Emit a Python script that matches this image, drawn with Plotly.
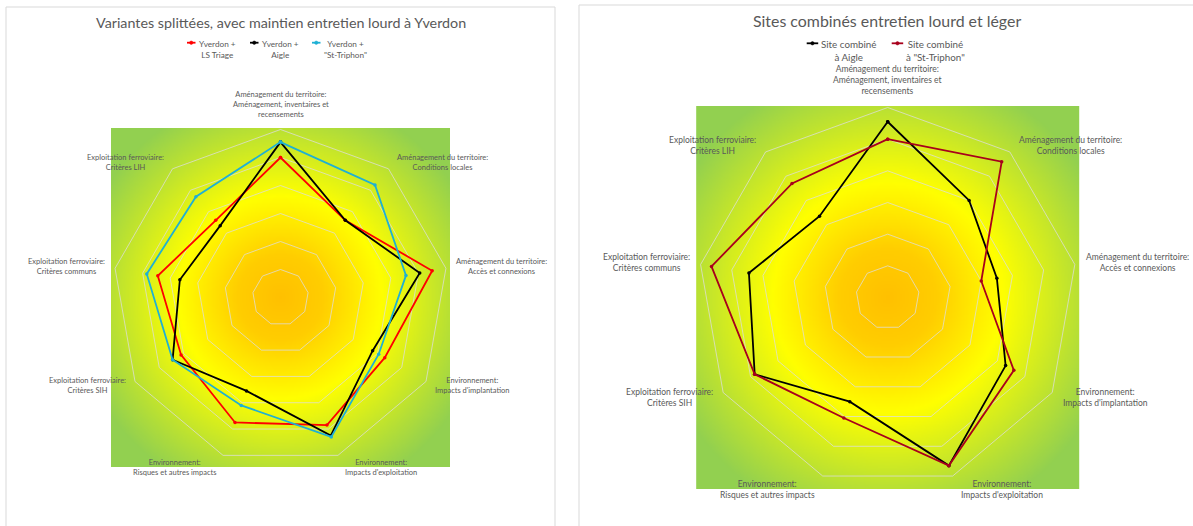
import base64
import math
import struct
import zlib

import numpy as np
import plotly.graph_objects as go

# ---------------------------------------------------------------- data
categories = [
    "Aménagement du territoire:<br>Aménagement, inventaires et<br>recensements",
    "Aménagement du territoire:<br>Conditions locales",
    "Aménagement du territoire:<br>Accès et connexions",
    "Environnement:<br>Impacts d'implantation",
    "Environnement:<br>Impacts d'exploitation",
    "Environnement:<br>Risques et autres impacts",
    "Exploitation ferroviaire:<br>Critères SIH",
    "Exploitation ferroviaire:<br>Critères communs",
    "Exploitation ferroviaire:<br>Critères LIH",
]

# Variantes splittées (entretien lourd à Yverdon)
yverdon_ls_triage = [5.0, 3.6, 5.5, 4.3, 4.85, 4.75, 4.1, 4.45, 3.6]
yverdon_aigle = [5.55, 3.6, 5.05, 3.8, 5.25, 3.55, 4.45, 3.65, 3.35]
yverdon_st_triphon = [5.55, 5.25, 4.55, 4.05, 5.3, 4.1, 4.45, 4.85, 4.7]

# Sites combinés entretien lourd et léger
site_aigle = [5.55, 4.0, 3.5, 4.3, 5.65, 3.5, 4.85, 4.45, 3.35]
site_st_triphon = [5.0, 5.6, 3.0, 4.6, 5.65, 4.05, 4.85, 5.65, 4.7]

left_names = ["Yverdon +<br>LS Triage", "Yverdon +<br>Aigle", 'Yverdon +<br>"St-Triphon"']
right_names = ["Site combiné<br>à Aigle", 'Site combiné<br>à "St-Triphon"']

left_title = "Variantes splittées, avec maintien entretien lourd à Yverdon"
right_title = "Sites combinés entretien lourd et léger"

# ---------------------------------------------------------------- geometry (px)
W, H = 1193, 526
FONT = "Lato"
TXT = "#595959"
GRID = "rgba(222,222,222,0.75)"

LEFT = dict(cx=280.5, cy=297.5, R=168.0, k=1.0)
RIGHT = dict(cx=887.7, cy=297.5, R=190.0, k=1.13)


def px(x):
    return x / W


def py(y):
    return 1 - y / H


def domain(p):
    return dict(x=[px(p["cx"] - p["R"]), px(p["cx"] + p["R"])],
                y=[py(p["cy"] + p["R"]), py(p["cy"] - p["R"])])


# ---------------------------------------------------------------- radial gradient fill
def gradient_png(n=260):
    stops = [(0.0, (255, 192, 0)), (0.25, (255, 205, 0)), (0.6, (255, 255, 0)),
             (1.0, (184, 224, 52)), (1.22, (146, 208, 80))]
    t = (np.arange(n) + 0.5) / n * 2 - 1
    xx, yy = np.meshgrid(t, t)
    r = np.sqrt(xx ** 2 + yy ** 2)
    pos = [s[0] for s in stops]
    rgb = np.stack([np.interp(r, pos, [s[1][c] for s in stops]) for c in range(3)], axis=-1)
    img = rgb.round().astype(np.uint8)
    raw = b"".join(b"\x00" + img[i].tobytes() for i in range(n))

    def chunk(tag, data):
        return (struct.pack(">I", len(data)) + tag + data
                + struct.pack(">I", zlib.crc32(tag + data) & 0xFFFFFFFF))

    png = (b"\x89PNG\r\n\x1a\n"
           + chunk(b"IHDR", struct.pack(">IIBBBBB", n, n, 8, 2, 0, 0, 0))
           + chunk(b"IDAT", zlib.compress(raw, 9))
           + chunk(b"IEND", b""))
    return "data:image/png;base64," + base64.b64encode(png).decode()


GRAD = gradient_png()

fig = go.Figure()
annotations = []
shapes = []


def add_series(values, name, color, subplot):
    fig.add_trace(go.Scatterpolar(
        r=values + values[:1],
        theta=categories + categories[:1],
        name=name.replace("<br>", " "),
        mode="lines+markers",
        line=dict(color=color, width=1.8),
        marker=dict(size=3.5, color=color),
        subplot=subplot,
        showlegend=False,
        hoverinfo="skip",
    ))


left_colors = ["#FF0000", "#000000", "#1FB0D4"]
right_colors = ["#000000", "#A8001C"]

for vals, nm, col in zip([yverdon_ls_triage, yverdon_aigle, yverdon_st_triphon], left_names, left_colors):
    add_series(vals, nm, col, "polar")
for vals, nm, col in zip([site_aigle, site_st_triphon], right_names, right_colors):
    add_series(vals, nm, col, "polar2")


def polar_layout(p):
    return dict(
        domain=domain(p),
        bgcolor="rgba(0,0,0,0)",
        gridshape="linear",
        radialaxis=dict(range=[0, 6], tickvals=[1, 2, 3, 4, 5], showticklabels=False,
                        ticks="", showline=False, gridcolor=GRID, gridwidth=1),
        angularaxis=dict(rotation=90, direction="clockwise", showgrid=False,
                         showticklabels=False, ticks="", showline=True,
                         linecolor=GRID, linewidth=1),
    )


images = []
for p in (LEFT, RIGHT):
    side = 2 * p["R"] + 3
    images.append(dict(source=GRAD, xref="paper", yref="paper",
                       x=px(p["cx"] - side / 2), y=py(p["cy"] - side / 2),
                       sizex=side / W, sizey=side / H, sizing="stretch",
                       xanchor="left", yanchor="top", layer="below"))


def label_annotations(p, size):
    k = p["k"]
    for i, lab in enumerate(categories):
        th = math.radians(90 - 40 * i)
        c, s = math.cos(th), math.sin(th)
        vx, vy = p["cx"] + p["R"] * c, p["cy"] - p["R"] * s
        if abs(c) < 0.1:
            xa, xs = "center", 0
        elif c > 0:
            xa, xs = "left", (4 + 4 * abs(c)) * k
        else:
            xa, xs = "right", -(4 + 4 * abs(c)) * k
        if s > 0.9:
            ya, ys = "bottom", 8 * k
        elif s < -0.9:
            ya, ys = "top", -1
        else:
            ya, ys = "middle", 8 * s * k
        annotations.append(dict(
            text=lab, x=px(vx), y=py(vy), xref="paper", yref="paper",
            xanchor=xa, yanchor=ya, xshift=xs, yshift=ys, align="center",
            showarrow=False, font=dict(family=FONT, size=size, color=TXT)))


label_annotations(LEFT, 7.5)
label_annotations(RIGHT, 8.5)

annotations.append(dict(text=left_title, x=px(280.8), y=py(22.7), xref="paper", yref="paper",
                        xanchor="center", yanchor="middle", showarrow=False,
                        font=dict(family=FONT, size=14.3, color=TXT)))
annotations.append(dict(text=right_title, x=px(887), y=py(20.7), xref="paper", yref="paper",
                        xanchor="center", yanchor="middle", showarrow=False,
                        font=dict(family=FONT, size=15.9, color=TXT)))


# ---------------------------------------------------------------- legends (line key + two-line text)
def legend_entries(names, colors, starts, y_mid, key_len, size):
    for nm, col, x0 in zip(names, colors, starts):
        shapes.append(dict(type="line", xref="paper", yref="paper",
                           x0=px(x0), x1=px(x0 + key_len), y0=py(y_mid), y1=py(y_mid),
                           line=dict(color=col, width=1.8)))
        mx = x0 + key_len / 2
        shapes.append(dict(type="circle", xref="paper", yref="paper",
                           x0=px(mx - 1.7), x1=px(mx + 1.7), y0=py(y_mid + 1.7), y1=py(y_mid - 1.7),
                           line=dict(color=col, width=0.5), fillcolor=col))
        annotations.append(dict(text=nm, x=px(x0 + key_len + 1), y=py(y_mid - size * 0.75),
                                xref="paper", yref="paper", xanchor="left", yanchor="top",
                                align="center", showarrow=False,
                                font=dict(family=FONT, size=size, color=TXT)))


legend_entries(left_names, left_colors, [187, 250, 312], 42.7, 8.5, 8.2)
legend_entries(right_names, right_colors, [806.7, 891.7], 43.3, 11.5, 9.8)

# chart frames
shapes += [
    dict(type="rect", xref="paper", yref="paper", x0=px(6), x1=px(555), y0=py(540), y1=py(7),
         line=dict(color="#D9D9D9", width=1), fillcolor="rgba(0,0,0,0)", layer="below"),
    dict(type="rect", xref="paper", yref="paper", x0=px(579), x1=px(1210), y0=py(540), y1=py(5),
         line=dict(color="#D9D9D9", width=1), fillcolor="rgba(0,0,0,0)", layer="below"),
]

fig.update_layout(
    width=W, height=H,
    margin=dict(l=0, r=0, t=0, b=0),
    paper_bgcolor="white",
    plot_bgcolor="white",
    font=dict(family=FONT, color=TXT),
    polar=polar_layout(LEFT),
    polar2=polar_layout(RIGHT),
    images=images,
    annotations=annotations,
    shapes=shapes,
    showlegend=False,
)

fig.write_html("out.html")
